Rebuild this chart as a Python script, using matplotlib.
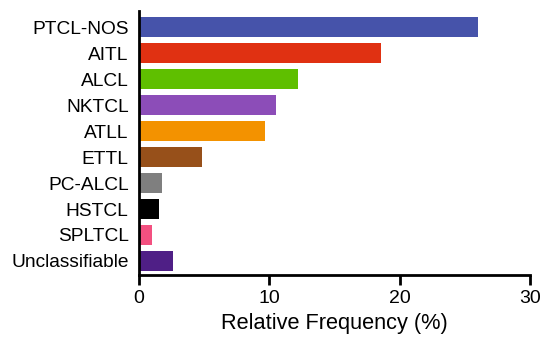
import matplotlib
matplotlib.use("Agg")
import matplotlib.pyplot as plt

categories = ["PTCL-NOS", "AITL", "ALCL", "NKTCL", "ATLL", "ETTL",
              "PC-ALCL", "HSTCL", "SPLTCL", "Unclassifiable"]
values = [26.0, 18.6, 12.2, 10.5, 9.7, 4.8, 1.8, 1.5, 1.0, 2.6]
colors = ["#4653AA", "#E03112", "#5FBF00", "#8C4DB8", "#F39200",
          "#97501A", "#7F7F7F", "#000000", "#F35080", "#4F1F86"]
xticks = [0, 10, 20, 30]

plt.rcParams['font.family'] = ['Liberation Sans', 'DejaVu Sans']
fig = plt.figure(figsize=(5.4, 3.41), dpi=100)
ax = fig.add_axes([139/540, 1 - 275/341, (530-139)/540, (275-11)/341])

ypos = list(range(len(categories)))
ax.barh(ypos, values, height=0.75, color=colors, edgecolor='none')
ax.set_ylim(len(categories) - 1 + 0.54, -0.62)
ax.set_xlim(0, 30)
ax.set_yticks(ypos)
ax.set_yticklabels(categories, fontsize=13.8)
ax.set_xticks(xticks)
ax.set_xticklabels([str(t) for t in xticks], fontsize=14)
ax.set_xlabel("Relative Frequency (%)", fontsize=15.7, labelpad=4)
ax.tick_params(axis='y', length=0, pad=7.5)
ax.tick_params(axis='x', length=7, width=2, pad=4)
for s in ['top', 'right']:
    ax.spines[s].set_visible(False)
for s in ['left', 'bottom']:
    ax.spines[s].set_linewidth(2)
fig.savefig("out.png", dpi=100)
